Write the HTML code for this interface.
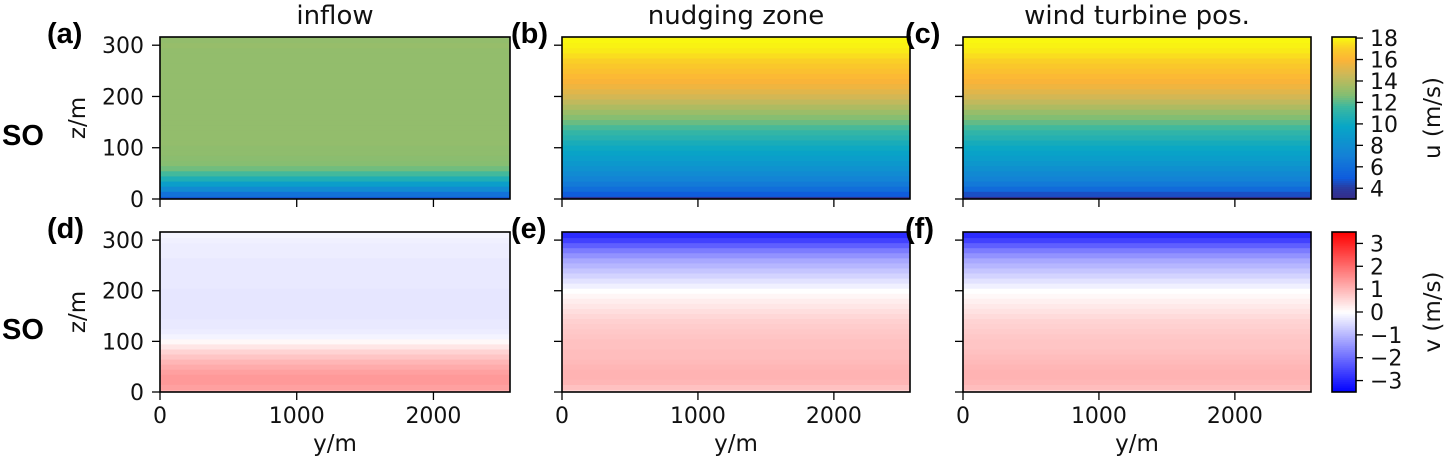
<!DOCTYPE html>
<html><head><meta charset="utf-8">
<style>
html,body{margin:0;padding:0;background:#fff;}
svg{display:block;font-family:"DejaVu Sans","Liberation Sans",sans-serif;}
</style></head>
<body>
<svg id="fig" width="1450" height="461" viewBox="0 0 1450 461" xmlns="http://www.w3.org/2000/svg"></svg>
<script>
// ---- data ----
const zLevels = [0,10,20,30,40,50,60,70,80,90,100,110,120,130,140,150,160,170,180,190,200,210,220,230,240,250,260,270,280,290,300,310];
const uInflow = [4.8,6.2,7.8,9.2,10.6,11.7,12.4,12.8,12.9,13,13,13.1,13.1,13.1,13.1,13.1,13.1,13.1,13.1,13.1,13.1,13.1,13.1,13.1,13.1,13.1,13.1,13.1,13.1,13.1,13.2,13.1];
const uNudging = [3.6,5,6,6.7,7.3,7.8,8.3,8.8,9.2,9.6,10,10.4,10.9,11.3,11.8,12.3,12.8,13.3,13.8,14.3,14.8,15.2,15.6,15.9,16.2,16.5,16.8,17.1,17.4,17.7,17.9,18];
const uTurbine = [3.3,4.6,5.8,6.6,7.2,7.7,8.2,8.7,9.1,9.5,9.9,10.3,10.8,11.2,11.7,12.2,12.7,13.2,13.8,14.3,14.8,15.2,15.6,15.9,16.2,16.5,16.8,17.1,17.4,17.7,17.9,18];
const vInflow = [1.1,1.3,1.4,1.4,1.3,1.15,1.0,0.8,0.6,0.35,0.1,-0.15,-0.25,-0.3,-0.3,-0.35,-0.35,-0.35,-0.35,-0.35,-0.35,-0.3,-0.3,-0.3,-0.3,-0.3,-0.3,-0.25,-0.25,-0.25,-0.2,-0.15];
const vNudging = [0.6,0.85,1.0,1.05,1.05,1.0,0.95,0.9,0.9,0.85,0.85,0.8,0.75,0.7,0.65,0.55,0.45,0.35,0.25,0.12,0.0,-0.2,-0.4,-0.6,-0.8,-1.0,-1.2,-1.5,-1.8,-2.2,-2.6,-2.9];
const vTurbine = [0.6,0.9,1.0,1.05,1.05,1.0,0.95,0.9,0.85,0.8,0.8,0.75,0.7,0.65,0.6,0.5,0.4,0.3,0.2,0.1,0.0,-0.2,-0.4,-0.6,-0.8,-1.0,-1.2,-1.5,-1.8,-2.2,-2.6,-2.9];
const xTicks = [0,1000,2000];
const zTicks = [0,100,200,300];
const uTicks = [4,6,8,10,12,14,16,18];
const vTicks = [-3,-2,-1,0,1,2,3];
const vTickLabels = ["\u22123","\u22122","\u22121","0","1","2","3"];
const titles = ["inflow","nudging zone","wind turbine pos."];
const letters = ["(a)","(b)","(c)","(d)","(e)","(f)"];

// ---- layout ----
const NS="http://www.w3.org/2000/svg";
const svg=document.getElementById('fig');
const colsX=[[160,510],[562,910],[963,1311]];
const rowsY=[[37,199],[232,392]];
const xMax=2560, zMax=316;
const uMin=3, uMax=18.1, vLim=3.5;
function el(tag,attrs,parent){const e=document.createElementNS(NS,tag);for(const k in attrs)e.setAttribute(k,attrs[k]);(parent||svg).appendChild(e);return e;}
function txt(s,attrs,parent){const e=el('text',attrs,parent);e.textContent=s;return e;}
const parulaStops=[[0,[53,42,135]],[0.07,[42,60,160]],[0.13,[15,92,221]],[0.27,[20,129,214]],[0.45,[8,166,198]],[0.57,[60,184,160]],[0.64,[130,190,115]],[0.7,[165,188,100]],[0.77,[205,184,88]],[0.86,[252,180,55]],[0.93,[250,205,40]],[1,[249,251,14]]];
function parula(t){t=Math.max(0,Math.min(1,t));for(let i=1;i<parulaStops.length;i++){if(t<=parulaStops[i][0]){const a=parulaStops[i-1],b=parulaStops[i];const f=(t-a[0])/(b[0]-a[0]);const c=a[1].map((v,k)=>Math.round(v+(b[1][k]-v)*f));return `rgb(${c})`;}}return 'rgb(249,251,14)';}
function uColor(u){return parula((u-uMin)/(uMax-uMin));}
function vColor(v){const f=Math.max(-1,Math.min(1,v/vLim));if(f>=0){const g=Math.round(255*(1-f));return `rgb(255,${g},${g})`;}const g=Math.round(255*(1+f));return `rgb(${g},${g},255)`;}

const panels=[
 {r:0,c:0,data:uInflow,cf:uColor,name:'panel-a-inflow-u'},
 {r:0,c:1,data:uNudging,cf:uColor,name:'panel-b-nudging-u'},
 {r:0,c:2,data:uTurbine,cf:uColor,name:'panel-c-turbine-u'},
 {r:1,c:0,data:vInflow,cf:vColor,name:'panel-d-inflow-v'},
 {r:1,c:1,data:vNudging,cf:vColor,name:'panel-e-nudging-v'},
 {r:1,c:2,data:vTurbine,cf:vColor,name:'panel-f-turbine-v'}];

panels.forEach((p,pi)=>{
  const [x0,x1]=colsX[p.c],[y0,y1]=rowsY[p.r];
  const zs=z=>y1-(z/zMax)*(y1-y0);
  const xs=x=>x0+(x/xMax)*(x1-x0);
  const g=el('g',{});
  
  
  zLevels.forEach((z,i)=>{
    const lo=Math.max(0,z-5),hi=Math.min(zMax,z+5+(i===zLevels.length-1?10:0));
    const r=el('rect',{x:x0,y:zs(hi)-0.5,width:x1-x0,height:zs(lo)-zs(hi)+1,fill:p.cf(p.data[i])},g);
    
    
  });
  const fr=el('rect',{x:x0,y:y0,width:x1-x0,height:y1-y0,fill:'none',stroke:'#000','stroke-width':1.6},g);
  
  
  zTicks.forEach(t=>{
    el('line',{x1:x0-8,x2:x0,y1:zs(t),y2:zs(t),stroke:'#000','stroke-width':1.3},g);
    if(p.c===0){const tl=txt(String(t),{x:x0-16,y:zs(t)+8,'font-size':22,'text-anchor':'end',fill:'#111'},g);
      }
  });
  xTicks.forEach(t=>{
    el('line',{x1:xs(t),x2:xs(t),y1:y1,y2:y1+8,stroke:'#000','stroke-width':1.3},g);
    if(p.r===1){const tl=txt(String(t),{x:xs(t),y:423,'font-size':22,'text-anchor':'middle',fill:'#111'},g);
      }
  });
  const lt=txt(letters[pi],{x:x0-113+(p.c>0?62:0)+(p.c===2?-7:0),y:y0+6,'font-size':29,'font-weight':'bold',fill:'#000','font-family':'Liberation Sans, sans-serif'},g);
  
  if(p.r===0){const tt=txt(titles[p.c],{x:(x0+x1)/2,y:24,'font-size':26,'text-anchor':'middle',fill:'#111'},g);
    }
  if(p.r===1){const xl=txt('y/m',{x:(x0+x1)/2,y:451,'font-size':23,'text-anchor':'middle',fill:'#111'},g);
    }
  if(p.c===0){const yl=txt('z/m',{x:0,y:0,'font-size':23,'text-anchor':'middle',fill:'#111',transform:`translate(85,${(y0+y1)/2}) rotate(-90)`},g);
    
    const so=txt('SO',{x:2,y:(y0+y1)/2+27,'font-size':29,'font-weight':'bold',fill:'#000','font-family':'Liberation Sans, sans-serif'},g);
    }
});

// colorbars
function colorbar(y0,y1,lo,hi,cf,ticks,labels,title,name){
  const x0=1332,x1=1356;
  const g=el('g',{});
  
  
  const n=80;
  for(let i=0;i<n;i++){
    const v=lo+(hi-lo)*(i+0.5)/n;
    const ya=y1-(i+1)*(y1-y0)/n;
    el('rect',{x:x0,y:ya-0.3,width:x1-x0,height:(y1-y0)/n+0.6,fill:cf(v)},g);
  }
  el('rect',{x:x0,y:y0,width:x1-x0,height:y1-y0,fill:'none',stroke:'#000','stroke-width':1.6},g);
  ticks.forEach((t,i)=>{
    const y=y1-(t-lo)/(hi-lo)*(y1-y0);
    el('line',{x1:x1,x2:x1+7,y1:y,y2:y,stroke:'#000','stroke-width':1.3},g);
    const tl=txt(labels[i],{x:x1+14,y:y+8,'font-size':22,fill:'#111'},g);
    
  });
  const tt=txt(title,{x:0,y:0,'font-size':23,'text-anchor':'middle',fill:'#111',transform:`translate(1440,${(y0+y1)/2}) rotate(-90)`},g);
  
}
colorbar(37,199,uMin,uMax,uColor,uTicks,uTicks.map(String),'u (m/s)','colorbar-u');
colorbar(232,392,-vLim,vLim,vColor,vTicks,vTickLabels,'v (m/s)','colorbar-v');
</script>
</body></html>
